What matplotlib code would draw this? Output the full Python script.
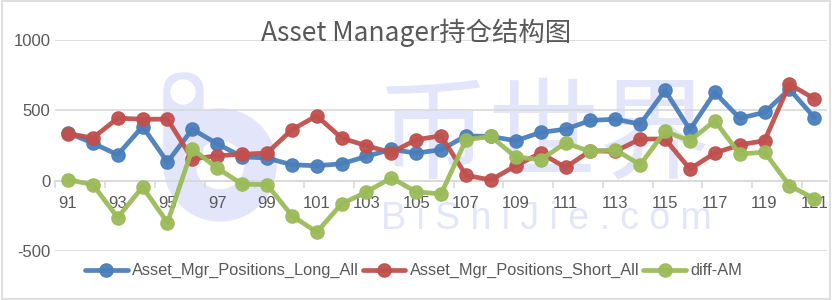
import numpy as np
import matplotlib.pyplot as plt
from matplotlib.patches import Wedge, Circle, FancyBboxPatch, Rectangle

# category labels (91 .. 121)
periods = list(range(91, 122))

long_all = [340, 267, 184, 385, 132, 366, 262, 170, 161, 113,
            106, 120, 173, 222, 196, 220, 319, 314, 284, 343,
            366, 428, 437, 402, 641, 362, 627, 444, 485, 650, 449]
short_all = [335, 303, 444, 437, 437, 154, 177, 188, 196, 362,
             461, 303, 248, 200, 291, 319, 38, 5, 106, 196,
             94, 213, 208, 296, 296, 83, 196, 255, 284, 686, 582]
diff_am = [7, -28, -262, -45, -298, 225, 90, -25, -28, -248,
           -366, -165, -80, 20, -80, -94, 291, 314, 168, 149,
           267, 208, 220, 113, 350, 284, 426, 189, 203, -35, -128]

names = ['Asset_Mgr_Positions_Long_All', 'Asset_Mgr_Positions_Short_All', 'diff-AM']
colors = ['#4a7ebb', '#c0504d', '#9bbb59']
txt_color = '#595959'
wm_color = '#e3e6fb'

plt.rcParams['font.family'] = ['Liberation Sans Narrow', 'Liberation Sans', 'DejaVu Sans']

fig = plt.figure(figsize=(8.32, 3.0), dpi=100)
ax = fig.add_axes([0.0667, 0.1633, 0.927, 0.7034])
ax.set_facecolor('none')

# faint watermark behind the chart (logo + site name)
inch = fig.dpi_scale_trans
fig.patches.append(Wedge((2.20, 1.35), 0.56, 0, 360, width=0.31, transform=inch,
                         color=wm_color, zorder=-2))
fig.patches.append(FancyBboxPatch((1.64, 1.35), 0.39, 0.92, boxstyle='round,pad=0,rounding_size=0.19',
                                  transform=inch, color=wm_color, zorder=-2))
fig.patches.append(Circle((1.83, 2.08), 0.12, transform=inch, color='white', zorder=-1))
fig.text(0.655, 0.54, '币世界', fontsize=80, color=wm_color, ha='center', va='center',
         family=['Noto Sans CJK SC'], zorder=-2)
fig.text(0.657, 0.27, 'B i S h i J i e . c o m', fontsize=27, color=wm_color,
         ha='center', va='center', family=['Liberation Sans'], zorder=-2)

for vals, name, c in zip([long_all, short_all, diff_am], names, colors):
    ax.plot(periods, vals, color=c, lw=3.4, marker='o', markersize=9.5,
            label=name, solid_capstyle='round', alpha=0.95, zorder=3)

ax.set_xlim(90.5, 121.5)
ax.set_ylim(-500, 1000)
ax.set_yticks([-500, 0, 500, 1000])
ax.set_yticklabels(['-500', '0', '500', '1000'])
ax.grid(axis='y', color='#d9d9d9', lw=1.2)
ax.set_axisbelow(True)

for s in ['top', 'right', 'left']:
    ax.spines[s].set_visible(False)
ax.spines['bottom'].set_position(('data', 0))
ax.spines['bottom'].set_color('#d9d9d9')
ax.spines['bottom'].set_linewidth(1.2)

ax.set_xticks(periods[::2])
ax.set_xticklabels([str(p) for p in periods[::2]])
ax.set_xticks(np.arange(90.5, 122, 2), minor=True)
ax.tick_params(axis='x', which='major', length=0, pad=11, labelsize=12, labelcolor=txt_color)
ax.tick_params(axis='x', which='minor', length=5, color='#d9d9d9', width=1.2)
ax.tick_params(axis='y', length=0, labelsize=12, labelcolor=txt_color, pad=3.5)
for lbl in ax.get_xticklabels() + ax.get_yticklabels():
    lbl.set_family(['Liberation Sans'])

fig.text(0.5, 0.89, 'Asset Manager持仓结构图', fontsize=19, color=txt_color,
         ha='center', va='center', family=['Liberation Sans Narrow', 'Noto Sans CJK SC'])

fig.legend(loc='center', bbox_to_anchor=(0.497, 0.097), ncol=3, frameon=False,
           fontsize=11.8, labelcolor=txt_color, handlelength=2.6, columnspacing=0.25,
           handletextpad=0.25, borderaxespad=0)

# light border around the whole picture
fig.patches.append(Rectangle((0.002, 0.004), 0.996, 0.992, transform=fig.transFigure,
                             fill=False, edgecolor='#d9d9d9', lw=1.2))

fig.savefig('out.png', dpi=100)
